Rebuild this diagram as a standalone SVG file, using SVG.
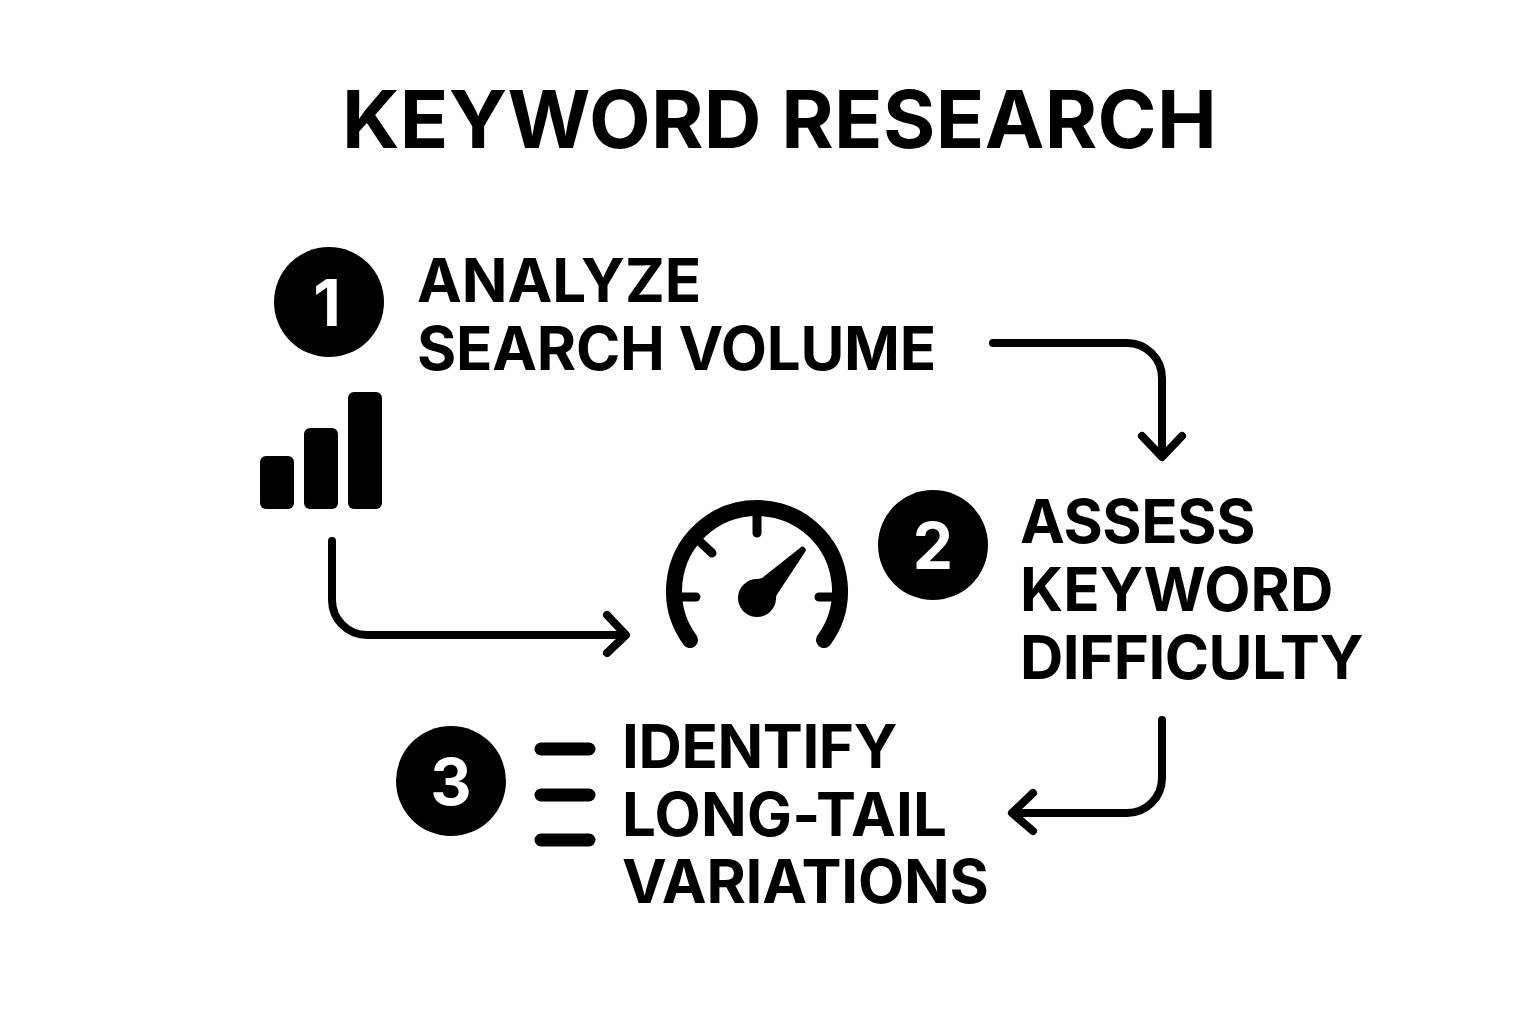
<svg xmlns="http://www.w3.org/2000/svg" width="1536" height="1024" viewBox="0 0 1536 1024">
<style>
.t{font-family:Inter,"Liberation Sans",sans-serif;font-weight:700;fill:#000}
.h{font-size:60px}
.title{font-size:80px;letter-spacing:.33px}
.n{font-size:64px;fill:#fff;text-anchor:middle}
.c{fill:none;stroke:#000;stroke-width:8;stroke-linecap:round;stroke-linejoin:round}
</style>
<rect width="1536" height="1024" fill="#fefefc"/>
<g id="title"><text class="t title" x="342" y="148">KEYWORD RESEARCH</text></g>
<g id="node1"><circle cx="329" cy="302" r="55" fill="#000"/><text class="t n" x="327" y="326">1</text>
<text class="t h" x="417" y="302">ANALYZE</text><text class="t h" x="417" y="370" letter-spacing="-.25">SEARCH VOLUME</text></g>
<g id="bars" fill="#000"><rect x="260" y="456" width="34" height="53" rx="6"/><rect x="304" y="428" width="34" height="81" rx="6"/><rect x="348" y="392" width="34" height="117" rx="6"/></g>
<g id="gauge"><path class="c" style="stroke-width:16" d="M690 640A83 83 0 1 1 824 640"/>
<path class="c" style="stroke-width:9" d="M757 512V533M696 538L712 553M676 597H696M819 597H840"/>
<path d="M738 597a19 19 0 0 0 38 2q0-4 2-6l27-41a3 3 0 0 0-5-4l-38 30q-2 1-5 1a19 19 0 0 0-19 18z" fill="#000"/></g>
<g id="node2"><circle cx="933" cy="545" r="55" fill="#000"/><text class="t n" x="933" y="569">2</text>
<text class="t h" x="1020" y="543" letter-spacing="-.4">ASSESS</text><text class="t h" x="1020" y="611">KEYWORD</text><text class="t h" x="1020" y="679" letter-spacing="-.55">DIFFICULTY</text></g>
<g id="node3"><circle cx="451" cy="781" r="55" fill="#000"/><text class="t n" x="451" y="805">3</text>
<path class="c" style="stroke-width:13" d="M541 749H589M541 795H589M541 840H589"/>
<text class="t h" x="622" y="768" letter-spacing="-.4">IDENTIFY</text><text class="t h" x="622" y="836" letter-spacing=".25">LONG-TAIL</text><text class="t h" x="622" y="903" letter-spacing="-.22">VARIATIONS</text></g>
<g id="connectors"><path class="c" d="M993 343H1127A35 35 0 0 1 1162 378V456M1142 436L1162 457L1182 436"/>
<path class="c" d="M332 541V600A35 35 0 0 0 367 635H625M607 615L626 635L607 653"/>
<path class="c" d="M1162 720V778A35 35 0 0 1 1127 813H1014M1033 793L1012 813L1033 831"/></g>
</svg>
